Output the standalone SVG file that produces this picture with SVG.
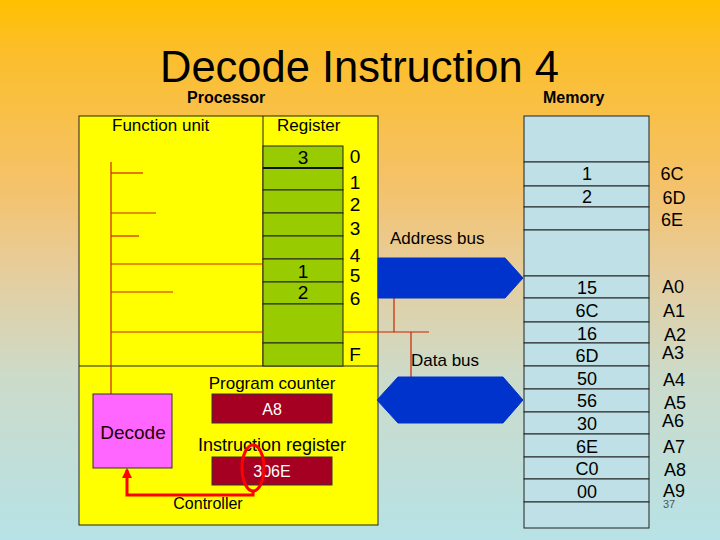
<svg xmlns="http://www.w3.org/2000/svg" width="720" height="540" viewBox="0 0 720 540">
<defs>
<linearGradient id="bg" x1="0" y1="0" x2="0" y2="1">
<stop offset="0" stop-color="#FFC000"/>
<stop offset="0.1" stop-color="#FCBE2C"/>
<stop offset="0.35" stop-color="#F4C26C"/>
<stop offset="0.5" stop-color="#E6CD9C"/>
<stop offset="0.7" stop-color="#CCDBCA"/>
<stop offset="1" stop-color="#B7E2E6"/>
</linearGradient>
<marker id="arr" viewBox="0 0 10 10" refX="8" refY="5" markerWidth="3.5" markerHeight="3.5" orient="auto">
<path d="M0,0 L10,5 L0,10 z" fill="#FF0000"/>
</marker>
<style>
text{font-family:"Liberation Sans",Arial,sans-serif;fill:#000}
.t17{font-size:17px}
.b16{font-size:16px;font-weight:bold}
.n19{font-size:19px;text-anchor:middle}
.m18{font-size:18px;text-anchor:middle}
.reg{fill:#99CC00;stroke:#222;stroke-width:1}
.mem{fill:#BEE0E6;stroke:#222;stroke-width:1}
.box{fill:#A50021;stroke:#333;stroke-width:1}
.wl{font-size:16px;fill:#fff;text-anchor:middle}
.rl{stroke:#CC2200;stroke-width:1.2;fill:none}
.bus{fill:#0033CC;stroke:#0033CC}
</style>
</defs>
<rect x="0" y="0" width="720" height="540" fill="url(#bg)"/>
<text x="160" y="82" style="font-size:43.5px">Decode Instruction 4</text>
<text x="187" y="103" class="b16">Processor</text>
<text x="543" y="103" class="b16">Memory</text>

<g id="processor">
<rect x="79" y="116" width="299" height="409" fill="#FFFF00" stroke="#222" stroke-width="1"/>
<line x1="263" y1="116" x2="263" y2="366" stroke="#222" stroke-width="1"/>
<line x1="79" y1="366" x2="378" y2="366" stroke="#222" stroke-width="1"/>
<text x="112" y="131" class="t17">Function unit</text>
<text x="277" y="131" class="t17">Register</text>
</g>

<g id="registers">
<rect class="reg" x="263" y="146" width="80" height="22"/>
<rect class="reg" x="263" y="168" width="80" height="22"/>
<rect class="reg" x="263" y="190" width="80" height="23"/>
<rect class="reg" x="263" y="213" width="80" height="23"/>
<rect class="reg" x="263" y="236" width="80" height="23"/>
<rect class="reg" x="263" y="259" width="80" height="23"/>
<rect class="reg" x="263" y="282" width="80" height="22"/>
<rect class="reg" x="263" y="304" width="80" height="39"/>
<rect class="reg" x="263" y="343" width="80" height="23"/>
<line x1="263" y1="168" x2="343" y2="168" stroke="#111" stroke-width="2"/>
<text x="303" y="164" class="n19">3</text>
<text x="303" y="278" class="n19">1</text>
<text x="303" y="299" class="n19">2</text>
<text x="355" y="163" class="n19">0</text>
<text x="355" y="189" class="n19">1</text>
<text x="355" y="211" class="n19">2</text>
<text x="355" y="235" class="n19">3</text>
<text x="355" y="262" class="n19">4</text>
<text x="355" y="282" class="n19">5</text>
<text x="355" y="305" class="n19">6</text>
<text x="355" y="361" class="n19">F</text>
</g>

<g id="connectors">
<line class="rl" x1="111" y1="162" x2="111" y2="394"/>
<line class="rl" x1="111" y1="173" x2="143" y2="173"/>
<line class="rl" x1="111" y1="213" x2="156" y2="213"/>
<line class="rl" x1="111" y1="236" x2="139" y2="236"/>
<line class="rl" x1="111" y1="264" x2="263" y2="264"/>
<line class="rl" x1="111" y1="292" x2="173" y2="292"/>
<line class="rl" x1="111" y1="332" x2="263" y2="332"/>
<line class="rl" x1="343" y1="332" x2="429" y2="332"/>
<line class="rl" x1="394" y1="298" x2="394" y2="332"/>
<line class="rl" x1="411" y1="332" x2="411" y2="377"/>
<polyline points="253,491 253,495 127,495 127,470" fill="none" stroke="#FF0000" stroke-width="3" marker-end="url(#arr)"/>
</g>

<g id="decode">
<rect x="93" y="394" width="79" height="74" fill="#FF66FF" stroke="#333" stroke-width="1"/>
<text x="133" y="439" style="font-size:19px;text-anchor:middle;fill:#200">Decode</text>
</g>

<g id="program-counter">
<text x="272" y="389" class="t17" text-anchor="middle">Program counter</text>
<rect class="box" x="212" y="394" width="120" height="29"/>
<text x="272" y="415" class="wl">A8</text>
</g>

<g id="instruction-register">
<text x="272" y="451" style="font-size:18px" text-anchor="middle">Instruction register</text>
<rect class="box" x="212" y="457" width="120" height="28"/>
<text x="272" y="477" class="wl">306E</text>
<ellipse cx="253" cy="468" rx="11" ry="23" fill="none" stroke="#FF0000" stroke-width="3"/>
<text x="208" y="509" style="font-size:16px" text-anchor="middle">Controller</text>
</g>

<g id="address-bus">
<polygon class="bus" points="378,258 505,258 523,278 505,298 378,298"/>
<text x="390" y="244" class="t17">Address bus</text>
</g>

<g id="data-bus">
<polygon class="bus" points="377,400 398,377 503,377 523,400 503,423 398,423"/>
<text x="411" y="366" class="t17">Data bus</text>
</g>

<g id="memory">
<rect class="mem" x="524" y="116" width="125" height="46"/>
<rect class="mem" x="524" y="162" width="125" height="24"/>
<rect class="mem" x="524" y="186" width="125" height="21"/>
<rect class="mem" x="524" y="207" width="125" height="23"/>
<rect class="mem" x="524" y="230" width="125" height="46"/>
<rect class="mem" x="524" y="276" width="125" height="22"/>
<rect class="mem" x="524" y="298" width="125" height="24"/>
<rect class="mem" x="524" y="322" width="125" height="21"/>
<rect class="mem" x="524" y="343" width="125" height="23"/>
<rect class="mem" x="524" y="366" width="125" height="23"/>
<rect class="mem" x="524" y="389" width="125" height="23"/>
<rect class="mem" x="524" y="412" width="125" height="22"/>
<rect class="mem" x="524" y="434" width="125" height="23"/>
<rect class="mem" x="524" y="457" width="125" height="22"/>
<rect class="mem" x="524" y="479" width="125" height="23"/>
<rect class="mem" x="524" y="502" width="125" height="26"/>
<text x="587" y="180" class="m18">1</text>
<text x="587" y="203" class="m18">2</text>
<text x="587" y="294" class="m18">15</text>
<text x="587" y="317" class="m18">6C</text>
<text x="587" y="340" class="m18">16</text>
<text x="587" y="362" class="m18">6D</text>
<text x="587" y="385" class="m18">50</text>
<text x="587" y="407" class="m18">56</text>
<text x="587" y="430" class="m18">30</text>
<text x="587" y="453" class="m18">6E</text>
<text x="587" y="475" class="m18">C0</text>
<text x="587" y="498" class="m18">00</text>
<text x="672" y="180" class="m18">6C</text>
<text x="674" y="204" class="m18">6D</text>
<text x="672" y="226" class="m18">6E</text>
<text x="673" y="293" class="m18">A0</text>
<text x="674" y="317" class="m18">A1</text>
<text x="675" y="341" class="m18">A2</text>
<text x="673" y="359" class="m18">A3</text>
<text x="674" y="386" class="m18">A4</text>
<text x="675" y="409" class="m18">A5</text>
<text x="673" y="427" class="m18">A6</text>
<text x="674" y="453" class="m18">A7</text>
<text x="675" y="476" class="m18">A8</text>
<text x="674" y="497" class="m18">A9</text>
<text x="669" y="508" style="font-size:11px;fill:#555;text-anchor:middle">37</text>
</g>
</svg>
